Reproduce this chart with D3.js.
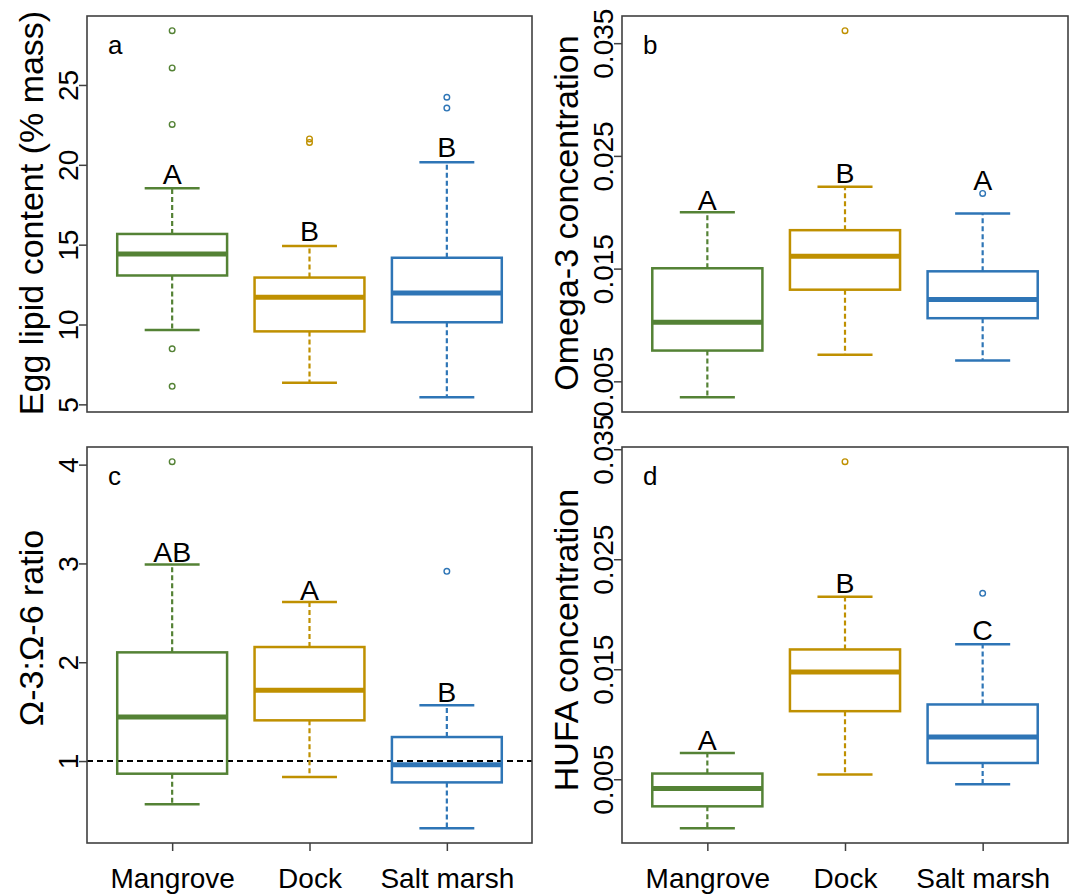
<!DOCTYPE html>
<html>
<head>
<meta charset="utf-8">
<script src="https://cdn.jsdelivr.net/npm/d3@7"></script>
<style>
  html, body { margin: 0; padding: 0; background: #ffffff; }
  svg { display: block; font-family: "Liberation Sans", Arial, Helvetica, sans-serif; }
</style>
</head>
<body>
<svg id="chart" width="1072" height="894"></svg>
<script>
// ---------------- DATA ----------------
const categories = ["Mangrove", "Dock", "Salt marsh"];
const groupColors = ["#548235", "#BF9000", "#2E75B6"];

// Box stats per group: [lower whisker, Q1, median, Q3, upper whisker]
// (a) Egg lipid content (% mass)
const lipidBoxes = [[9.65, 13.07, 14.41, 15.67, 18.54], [6.36, 9.57, 11.71, 12.94, 14.92], [5.44, 10.14, 11.98, 14.18, 20.16]];
const lipidOutliers = [[28.4, 26.07, 22.53, 8.48, 6.13], [21.62, 21.4], [24.23, 23.55]];
const lipidLetters = ["A", "B", "B"];
const lipidLetterAt = [18.77, 15.21, 20.47];
const lipidTicks = [5, 10, 15, 20, 25];
const lipidTickLabels = ["5", "10", "15", "20", "25"];

// (b) Omega-3 concentration
const omega3Boxes = [[0.00358, 0.00773, 0.01025, 0.01503, 0.02001], [0.00735, 0.01313, 0.0161, 0.01841, 0.02226], [0.00684, 0.0106, 0.01227, 0.01476, 0.01989]];
const omega3Outliers = [[], [0.03611], [0.02167]];
const omega3Letters = ["A", "B", "A"];
const omega3LetterAt = [0.02019, 0.02262, 0.02197];
const omega3Ticks = [0.005, 0.015, 0.025, 0.035];
const omega3TickLabels = ["0.005", "0.015", "0.025", "0.035"];

// (c) Omega-3 : Omega-6 ratio
const ratioBoxes = [[0.562, 0.872, 1.445, 2.10, 2.99], [0.838, 1.412, 1.716, 2.154, 2.61], [0.319, 0.784, 0.963, 1.243, 1.564]];
const ratioOutliers = [[4.03], [], [2.92]];
const ratioLetters = ["AB", "A", "B"];
const ratioLetterAt = [3.01, 2.63, 1.60];
const ratioTicks = [1, 2, 3, 4];
const ratioTickLabels = ["1", "2", "3", "4"];
const ratioReference = 1;

// (d) HUFA concentration
const hufaBoxes = [[0.00054, 0.00254, 0.00415, 0.00552, 0.00739], [0.00543, 0.01119, 0.01476, 0.0168, 0.02159], [0.00455, 0.00648, 0.00885, 0.0118, 0.01728]];
const hufaOutliers = [[], [0.03387], [0.0219]];
const hufaLetters = ["A", "B", "C"];
const hufaLetterAt = [0.0077, 0.0219, 0.01765];
const hufaTicks = [0.005, 0.015, 0.025, 0.035];
const hufaTickLabels = ["0.005", "0.015", "0.025", "0.035"];

// ---------------- LAYOUT ----------------
const panels = [
  { tag: "a", title: "Egg lipid content (% mass)", boxes: lipidBoxes, outliers: lipidOutliers, letters: lipidLetters, letterAt: lipidLetterAt,
    ticks: lipidTicks, tickLabels: lipidTickLabels, x0: 87, x1: 532, y0: 16, y1: 412, titleY: 213, xAxis: false },
  { tag: "b", title: "Omega-3 concentration", boxes: omega3Boxes, outliers: omega3Outliers, letters: omega3Letters, letterAt: omega3LetterAt,
    ticks: omega3Ticks, tickLabels: omega3TickLabels, x0: 622, x1: 1068, y0: 16, y1: 412, titleY: 213, xAxis: false },
  { tag: "c", title: "\u03A9-3:\u03A9-6 ratio", boxes: ratioBoxes, outliers: ratioOutliers, letters: ratioLetters, letterAt: ratioLetterAt,
    ticks: ratioTicks, tickLabels: ratioTickLabels, x0: 87, x1: 532, y0: 447, y1: 843, titleY: 628, xAxis: true, refLine: ratioReference },
  { tag: "d", title: "HUFA concentration", boxes: hufaBoxes, outliers: hufaOutliers, letters: hufaLetters, letterAt: hufaLetterAt,
    ticks: hufaTicks, tickLabels: hufaTickLabels, x0: 622, x1: 1068, y0: 447, y1: 843, titleY: 640, xAxis: true }
];

const svg = d3.select("#chart");
svg.append("rect").attr("width", 1072).attr("height", 894).attr("fill", "#ffffff");

const frameColor = "#404040";

panels.forEach(p => {
  const g = svg.append("g");
  const x = d3.scalePoint().domain(categories).range([p.x0, p.x1]).padding(0.62);
  const allVals = p.boxes.flat().concat(p.outliers.flat());
  const lo = d3.min(allVals), hi = d3.max(allVals);
  const pad = (hi - lo) * 0.04;
  const y = d3.scaleLinear().domain([lo - pad, hi + pad]).range([p.y1, p.y0]);
  const step = x.step();
  const halfBox = 0.4 * step;
  const halfStaple = 0.2 * step;

  // reference line
  if (p.refLine !== undefined) {
    g.append("line")
      .attr("x1", p.x0).attr("x2", p.x1)
      .attr("y1", y(p.refLine)).attr("y2", y(p.refLine))
      .attr("stroke", "#000").attr("stroke-width", 2)
      .attr("stroke-dasharray", "6,4");
  }

  categories.forEach((c, i) => {
    const cx = x(c);
    const col = groupColors[i];
    const [lw, q1, med, q3, uw] = p.boxes[i];
    const bg = g.append("g");
    // whiskers
    bg.append("line").attr("x1", cx).attr("x2", cx).attr("y1", y(q3)).attr("y2", y(uw))
      .attr("stroke", col).attr("stroke-width", 2.2).attr("stroke-dasharray", "5,3");
    bg.append("line").attr("x1", cx).attr("x2", cx).attr("y1", y(q1)).attr("y2", y(lw))
      .attr("stroke", col).attr("stroke-width", 2.2).attr("stroke-dasharray", "5,3");
    // staples
    [uw, lw].forEach(v => {
      bg.append("line").attr("x1", cx - halfStaple).attr("x2", cx + halfStaple)
        .attr("y1", y(v)).attr("y2", y(v))
        .attr("stroke", col).attr("stroke-width", 2.5);
    });
    // box
    bg.append("rect").attr("x", cx - halfBox).attr("y", y(q3))
      .attr("width", 2 * halfBox).attr("height", y(q1) - y(q3))
      .attr("fill", "none").attr("stroke", col).attr("stroke-width", 2.5);
    // median
    bg.append("line").attr("x1", cx - halfBox).attr("x2", cx + halfBox)
      .attr("y1", y(med)).attr("y2", y(med))
      .attr("stroke", col).attr("stroke-width", 5);
    // outliers
    bg.selectAll("circle.out").data(p.outliers[i]).enter().append("circle")
      .attr("class", "out")
      .attr("cx", cx).attr("cy", d => y(d)).attr("r", 2.8)
      .attr("fill", "none").attr("stroke", col).attr("stroke-width", 1.4);
    // significance letter
    bg.append("text").attr("x", cx).attr("y", y(p.letterAt[i]))
      .attr("text-anchor", "middle").attr("font-size", 28.5).attr("fill", "#000")
      .text(p.letters[i]);
  });

  // frame
  g.append("rect").attr("x", p.x0).attr("y", p.y0)
    .attr("width", p.x1 - p.x0).attr("height", p.y1 - p.y0)
    .attr("fill", "none").attr("stroke", frameColor).attr("stroke-width", 1.6);

  // y axis
  const ya = g.append("g").attr("transform", `translate(${p.x0},0)`)
    .call(d3.axisLeft(y).tickValues(p.ticks).tickFormat((d, i) => p.tickLabels[i]).tickSize(8).tickSizeOuter(0));
  ya.select(".domain").remove();
  ya.selectAll(".tick line").attr("stroke", frameColor).attr("stroke-width", 1.5);
  ya.selectAll(".tick text")
    .attr("transform", "rotate(-90)")
    .attr("x", 0).attr("y", -9).attr("dy", 0)
    .attr("text-anchor", "middle")
    .attr("font-size", 28).attr("fill", "#000")
    .style("font-family", "'Liberation Sans', Arial, sans-serif");

  // x axis
  if (p.xAxis) {
    const xa = g.append("g").attr("transform", `translate(0,${p.y1})`)
      .call(d3.axisBottom(x).tickSize(8).tickSizeOuter(0));
    xa.select(".domain").remove();
    xa.selectAll(".tick line").attr("stroke", frameColor).attr("stroke-width", 1.5);
    xa.selectAll(".tick text")
      .attr("y", 888 - p.y1).attr("dy", 0)
      .attr("font-size", 28).attr("fill", "#000")
      .style("font-family", "'Liberation Sans', Arial, sans-serif");
  }

  // axis title
  g.append("text")
    .attr("transform", `translate(${p.x0 - 44},${p.titleY}) rotate(-90)`)
    .attr("text-anchor", "middle").attr("font-size", 34).attr("fill", "#000")
    .text(p.title);

  // panel tag
  g.append("text").attr("x", p.x0 + 21).attr("y", p.y0 + 38)
    .attr("font-size", 26).attr("fill", "#000").text(p.tag);
});
</script>
</body>
</html>
